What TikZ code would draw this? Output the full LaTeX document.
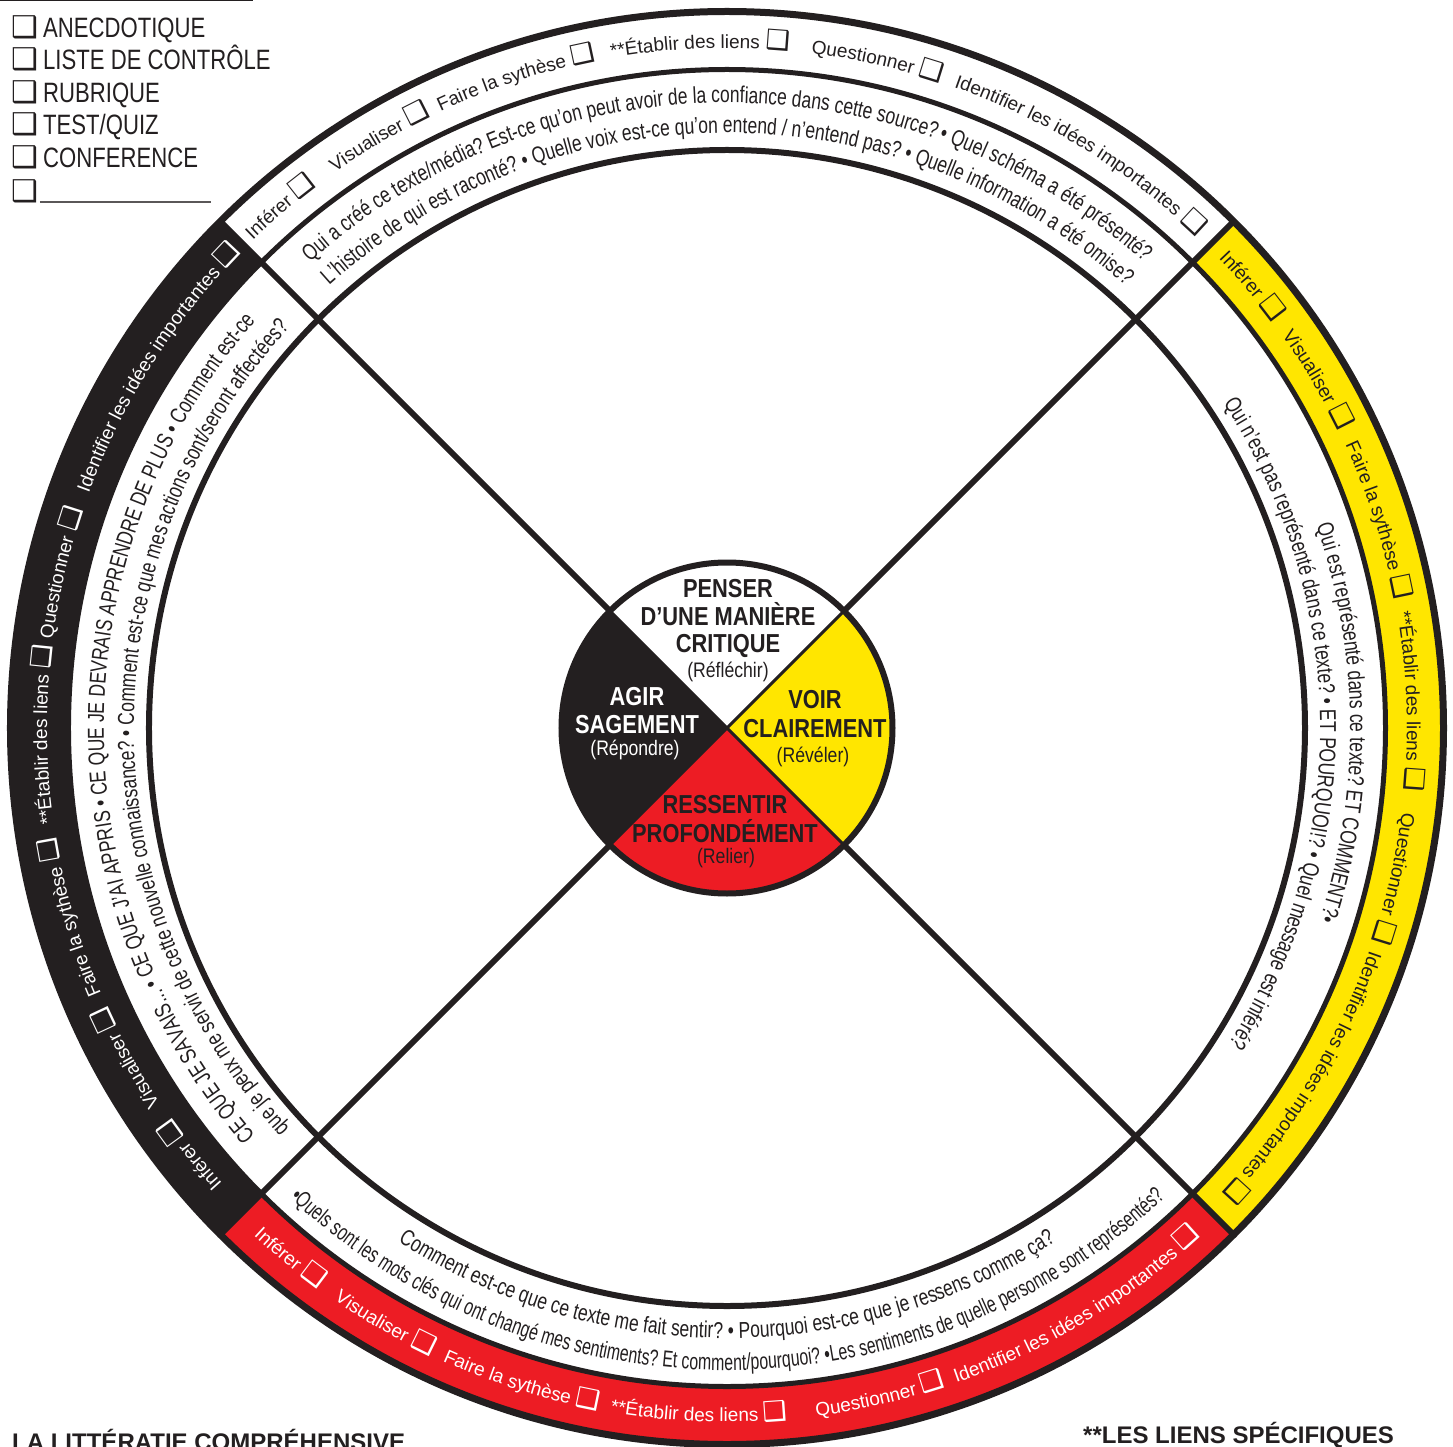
\documentclass[tikz,border=0pt]{standalone}
\usepackage{fontspec}
\setmainfont{Liberation Sans}
\newfontfamily\qfont[FakeStretch=0.76]{Liberation Sans}
\newfontfamily\qfontb[FakeStretch=0.69]{Liberation Sans}
\newfontfamily\chkfont[FakeStretch=0.79]{Liberation Sans}
\newfontfamily\ctrfont[FakeStretch=0.84]{Liberation Sans}
\newfontfamily\boxfont{DejaVu Sans}
\usetikzlibrary{decorations.text}
\definecolor{wy}{HTML}{FFE600}
\definecolor{wr}{HTML}{ED1C24}
\definecolor{wk}{HTML}{231F20}
\newcommand\lblfont{\fontsize{19}{20}\selectfont}
\newcommand\bxfont{\boxfont\fontsize{27}{27}\selectfont}
\newcommand\qf{\color{wk}\qfont\fontsize{23}{25}\selectfont}
\newcommand\qfb{\color{wk}\qfontb\fontsize{23}{25}\selectfont}
% clockwise ring label (tops outward)
\newcommand\cwlabel[4]{%
  \path[decorate,decoration={text along path,text align=left,
    text={|\color{#3}\lblfont|#4 |\color{#3}\bxfont|❑}}]
    ({#1}:#2pt) arc[start angle=#1,end angle=#1-40,radius=#2pt];}
% counter-clockwise ring label (tops inward)
\newcommand\ccwlabel[4]{%
  \path[decorate,decoration={text along path,text align=left,
    text={|\color{#3}\lblfont|#4 |\color{#3}\bxfont|❑}}]
    ({#1}:#2pt) arc[start angle=#1,end angle=#1+40,radius=#2pt];}
% question lines
\newcommand\cwq[4]{%
  \path[decorate,decoration={text along path,text align=center,text={|#3|#4}}]
    ({#1+70}:#2pt) arc[start angle=#1+70,end angle=#1-70,radius=#2pt];}
\newcommand\ccwq[4]{%
  \path[decorate,decoration={text along path,text align=center,text={|#3|#4}}]
    ({#1-70}:#2pt) arc[start angle=#1-70,end angle=#1+70,radius=#2pt];}
\newcommand\bandsector[3]{%
  \fill[#1] ({#2}:658pt) arc[start angle=#2,end angle=#3,radius=658pt]
    -- ({#3}:716pt) arc[start angle=#3,end angle=#2,radius=716pt] -- cycle;}
\newcommand\ctrsector[3]{%
  \fill[#1] (0,0) -- ({#2}:166pt) arc[start angle=#2,end angle=#3,radius=166pt] -- cycle;}
\tikzset{
  ctr/.style={font=\ctrfont\bfseries\fontsize{26}{28}\selectfont,anchor=base,inner sep=0pt},
  ctrsub/.style={font=\ctrfont\fontsize{21}{23}\selectfont,anchor=base,inner sep=0pt},
  chk/.style={font=\chkfont\fontsize{28}{30}\selectfont,anchor=base west,inner sep=0pt,text=wk},
  chkbox/.style={font=\boxfont\fontsize{30}{31}\selectfont,anchor=base west,inner sep=0pt,text=wk},
  foot/.style={font=\bfseries\fontsize{24}{26}\selectfont,anchor=base west,inner sep=0pt,text=wk},
  ringline/.style={draw=wk},
}
\begin{document}
\begin{tikzpicture}[x=1pt,y=1pt]
\useasboundingbox (-727,-718) rectangle (726,728);
\fill[white] (-727,-718) rectangle (726,728);
% outer band sectors
\bandsector{wy}{-45}{45}
\bandsector{wr}{225}{315}
\bandsector{wk}{135}{225}
% centre sectors
\ctrsector{white}{45}{135}
\ctrsector{wk}{135}{225}
\ctrsector{wr}{225}{315}
\ctrsector{wy}{-45}{45}
% X lines
\foreach \a in {45,135,225,315}{
  \draw[wk,line width=6pt] (\a:166pt) -- (\a:719pt);
  \draw[wk,line width=3pt] (0,0) -- (\a:166pt);
}
% circles
\draw[ringline,line width=7pt] (0,0) circle[radius=716.5pt];
\draw[ringline,line width=5pt] (0,0) circle[radius=658.5pt];
\draw[ringline,line width=6pt] (0,0) circle[radius=578pt];
\draw[ringline,line width=6pt] (0,0) circle[radius=165.5pt];
% top band labels
\cwlabel{134.2}{680}{wk}{Inférer}
\cwlabel{125.2}{680}{wk}{Visualiser}
\cwlabel{114.9}{680}{wk}{Faire la sythèse}
\cwlabel{99.8}{680}{wk}{**Établir des liens}
\cwlabel{82.9}{680}{wk}{Questionner}
\cwlabel{70.5}{680}{wk}{Identifier les idées importantes}
% right band labels
\cwlabel{43.7}{680}{wk}{Inférer}
\cwlabel{35.3}{680}{wk}{Visualiser}
\cwlabel{24.6}{680}{wk}{Faire la sythèse}
\cwlabel{9.8}{680}{wk}{**Établir des liens}
\cwlabel{-7.1}{680}{wk}{Questionner}
\cwlabel{-19.1}{680}{wk}{Identifier les idées importantes}
% left band labels
\cwlabel{222.1}{680}{white}{Inférer}
\cwlabel{213.5}{680}{white}{Visualiser}
\cwlabel{203.0}{680}{white}{Faire la sythèse}
\cwlabel{188.1}{680}{white}{**Établir des liens}
\cwlabel{172.5}{680}{white}{Questionner}
\cwlabel{159.8}{680}{white}{Identifier les idées importantes}
% bottom band labels
\ccwlabel{227.0}{694}{white}{Inférer}
\ccwlabel{235.5}{694}{white}{Visualiser}
\ccwlabel{245.8}{694}{white}{Faire la sythèse}
\ccwlabel{260.3}{694}{white}{**Établir des liens}
\ccwlabel{277.4}{694}{white}{Questionner}
\ccwlabel{289.3}{694}{white}{Identifier les idées importantes}
% question lines
\cwq{90}{625}{\qf}{Qui a créé ce texte/média? Est-ce qu’on peut avoir de la confiance dans cette source? • Quel schéma a été présenté?}
\cwq{90}{595}{\qf}{L’histoire de qui est raconté? • Quelle voix est-ce qu’on entend / n’entend pas? • Quelle information a été omise?}
\cwq{0.5}{623}{\qf}{Qui est représenté dans ce texte? ET COMMENT?•}
\cwq{0.5}{593}{\qf}{Qui n’est pas représenté dans ce texte? • ET POURQUOI!? • Quel message est inféré?}
\cwq{180}{623}{\qf}{CE QUE JE SAVAIS... • CE QUE J’AI APPRIS • CE QUE JE DEVRAIS APPRENDRE DE PLUS • Comment est-ce}
\cwq{180}{593}{\qf}{que je peux me servir de cette nouvelle connaissance? • Comment est-ce que mes actions sont/seront affectées?}
\ccwq{270}{610}{\qf}{Comment est-ce que ce texte me fait sentir? • Pourquoi est-ce que je ressens comme ça?}
\ccwq{270}{642}{\qfb}{•Quels sont les mots clés qui ont changé mes sentiments? Et comment/pourquoi? •Les sentiments de quelle personne sont représentés?}
% centre texts
\node[ctr,text=wk] (p1) at (1,131) {PENSER};
\node[ctr,text=wk] (p2) at (1,103) {D’UNE MANIÈRE};
\node[ctr,text=wk] (p3) at (1,76) {CRITIQUE};
\node[ctrsub,text=wk] (p4) at (1,51) {(Réfléchir)};
\node[ctr,text=white] (a1) at (-90,23) {AGIR};
\node[ctr,text=white] (a2) at (-90,-5) {SAGEMENT};
\node[ctrsub,text=white] (a3) at (-92,-27) {(Répondre)};
\node[ctr,text=wk] (v1) at (88,20) {VOIR};
\node[ctr,text=wk] (v2) at (88,-9) {CLAIREMENT};
\node[ctrsub,text=wk] (v3) at (86,-34) {(Révéler)};
\node[ctr,text=wk] (r1) at (-2,-85) {RESSENTIR};
\node[ctr,text=wk] (r2) at (-2,-114) {PROFONDÉMENT};
\node[ctrsub,text=wk] (r3) at (-1,-135) {(Relier)};
% checklist
\draw[wk,line width=2pt] (-727,728) -- (-474,728);
\node[chkbox] (b1) at (-716,690) {❑};
\node[chk] (c1) at (-684,690) {ANECDOTIQUE};
\node[chkbox] (b2) at (-716,658) {❑};
\node[chk] (c2) at (-684,658) {LISTE DE CONTRÔLE};
\node[chkbox] (b3) at (-716,625) {❑};
\node[chk] (c3) at (-684,625) {RUBRIQUE};
\node[chkbox] (b4) at (-716,593) {❑};
\node[chk] (c4) at (-684,593) {TEST/QUIZ};
\node[chkbox] (b5) at (-716,560) {❑};
\node[chk] (c5) at (-684,560) {CONFERENCE};
\node[chkbox] (b6) at (-716,526) {❑};
\coordinate (l1) at (-687,526);
\coordinate (l2) at (-516,526);
\draw[wk!75,line width=1.5pt] (l1) -- (l2);
% footer
\node[foot] (lit) at (-715,-722) {LA LITTÉRATIE COMPRÉHENSIVE};
\node[foot] (liens) at (356,-715) {**LES LIENS SPÉCIFIQUES};
\end{tikzpicture}
\end{document}
